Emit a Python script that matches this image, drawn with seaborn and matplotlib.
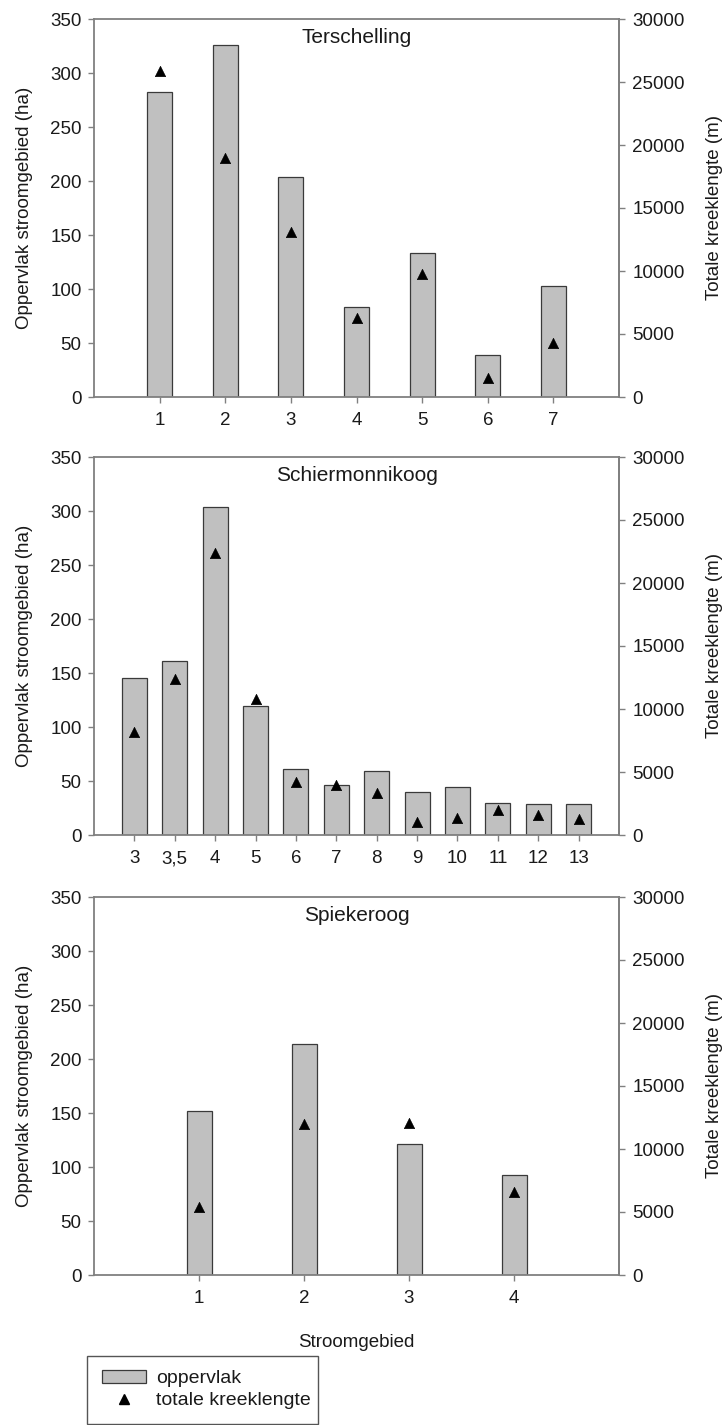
import numpy as np
import pandas as pd
import matplotlib
matplotlib.use("Agg")
import matplotlib.pyplot as plt
import seaborn as sns
from matplotlib.patches import Patch
from matplotlib.lines import Line2D

# ---------------- data ----------------
panel_names = ["Terschelling", "Schiermonnikoog", "Spiekeroog"]

terschelling_gebied = ["1", "2", "3", "4", "5", "6", "7"]
terschelling_oppervlak = [282, 326, 204, 83, 133, 39, 103]
terschelling_lengte = [25900, 19000, 13100, 6300, 9800, 1500, 4300]

schier_gebied = ["3", "3,5", "4", "5", "6", "7", "8", "9", "10", "11", "12", "13"]
schier_oppervlak = [145, 161, 304, 119, 61, 46, 59, 40, 44, 30, 29, 29]
schier_lengte = [8200, 12400, 22400, 10800, 4200, 4000, 3300, 1000, 1350, 1950, 1550, 1300]

spiek_gebied = ["1", "2", "3", "4"]
spiek_oppervlak = [152, 214, 121, 93]
spiek_lengte = [5400, 12000, 12100, 6600]

left_ticks = [0, 50, 100, 150, 200, 250, 300, 350]
right_ticks = [0, 5000, 10000, 15000, 20000, 25000, 30000]

ylabel_left = "Oppervlak stroomgebied (ha)"
ylabel_right = "Totale kreeklengte (m)"
xlabel = "Stroomgebied"
legend_labels = ["oppervlak", "totale kreeklengte"]

panels = [
    (panel_names[0], terschelling_gebied, terschelling_oppervlak, terschelling_lengte),
    (panel_names[1], schier_gebied, schier_oppervlak, schier_lengte),
    (panel_names[2], spiek_gebied, spiek_oppervlak, spiek_lengte),
]

# ---------------- style ----------------
sns.set_theme(style="ticks")
plt.rcParams["font.family"] = ["Liberation Sans", "DejaVu Sans"]
plt.rcParams["text.color"] = "#1a1a1a"
plt.rcParams["axes.labelcolor"] = "#1a1a1a"
plt.rcParams["xtick.color"] = "#808080"
plt.rcParams["ytick.color"] = "#808080"
plt.rcParams["xtick.labelcolor"] = "#1a1a1a"
plt.rcParams["ytick.labelcolor"] = "#1a1a1a"

W, H = 726, 1425
fig = plt.figure(figsize=(W / 100, H / 100), dpi=100)

ax_left_px, ax_right_px = 94, 619
ax_tops = [19, 457, 897]
ax_h = 378

bar_color = "#c0c0c0"
bar_edge = "#3a3a3a"
spine_color = "#808080"
tick_fs = 13.5
label_fs = 13.5
title_fs = 15
legend_fs = 14

for (name, gebied, opp, lengte), top in zip(panels, ax_tops):
    rect = [ax_left_px / W, 1 - (top + ax_h) / H, (ax_right_px - ax_left_px) / W, ax_h / H]
    ax = fig.add_axes(rect)
    n = len(gebied)
    df = pd.DataFrame({"gebied": gebied, "oppervlak": opp, "lengte": lengte})
    slot_px = (ax_right_px - ax_left_px) / (n + 1)
    sns.barplot(data=df, x="gebied", y="oppervlak", order=gebied, ax=ax,
                color=bar_color, saturation=1, width=25 / slot_px,
                edgecolor=bar_edge, linewidth=0.9, errorbar=None)
    ax2 = ax.twinx()
    sns.scatterplot(data=df, x="gebied", y="lengte", ax=ax2, marker="^",
                    s=55, color="black", edgecolor="black", linewidth=0.5,
                    legend=False, zorder=5)
    ax.set_xlim(-1, n)
    ax2.set_xlim(-1, n)
    ax.set_ylim(0, 350)
    ax2.set_ylim(0, 30000)
    ax.set_yticks(left_ticks)
    ax2.set_yticks(right_ticks)
    ax.set_yticklabels([str(t) for t in left_ticks])
    ax2.set_yticklabels([str(t) for t in right_ticks])

    for sp in ax.spines.values():
        sp.set_visible(True)
        sp.set_color(spine_color)
        sp.set_linewidth(1.3)
    for sp in ax2.spines.values():
        sp.set_visible(False)
    ax2.spines["right"].set_visible(True)
    ax2.spines["right"].set_color(spine_color)
    ax2.spines["right"].set_linewidth(1.3)

    ax.tick_params(axis="y", left=True, right=False, direction="out", length=4.5,
                   width=1, pad=4.5, labelsize=tick_fs)
    ax.tick_params(axis="x", bottom=True, top=False, direction="out", length=4,
                   width=1, pad=7, labelsize=tick_fs)
    ax2.tick_params(axis="y", right=True, left=False, direction="out", length=4.5,
                    width=1, pad=5, labelsize=tick_fs)
    ax2.tick_params(axis="x", bottom=False, top=False, labelbottom=False)

    ax.set_ylabel(ylabel_left, fontsize=label_fs)
    ax2.set_ylabel(ylabel_right, fontsize=label_fs)
    ax.yaxis.set_label_coords((33 - ax_left_px) / (ax_right_px - ax_left_px), 0.5)
    ax2.yaxis.set_label_coords((706 - ax_left_px) / (ax_right_px - ax_left_px), 0.5)
    ax.set_xlabel("")
    ax2.set_xlabel("")
    ax.grid(False)
    ax2.grid(False)

    ax.text(0.5, 1 - 9 / ax_h, name, transform=ax.transAxes, ha="center",
            va="top", fontsize=title_fs)
    last_ax = ax

last_ax.set_xlabel(xlabel, fontsize=label_fs, labelpad=19)

handles = [
    Patch(facecolor=bar_color, edgecolor=bar_edge, linewidth=0.9),
    Line2D([], [], marker="^", color="black", linestyle="none", markersize=7.5),
]
fig.legend(handles, legend_labels, loc="upper left",
           bbox_to_anchor=(87 / W, 1 - 1357 / H, (318 - 87) / W, 0.001),
           mode="expand", frameon=True, fancybox=False, fontsize=legend_fs,
           edgecolor="#555555", framealpha=1, borderpad=0.75,
           handlelength=2.3, handleheight=0.6, handletextpad=0.5,
           labelspacing=0.25, borderaxespad=0)

fig.savefig("out.png", dpi=100)
